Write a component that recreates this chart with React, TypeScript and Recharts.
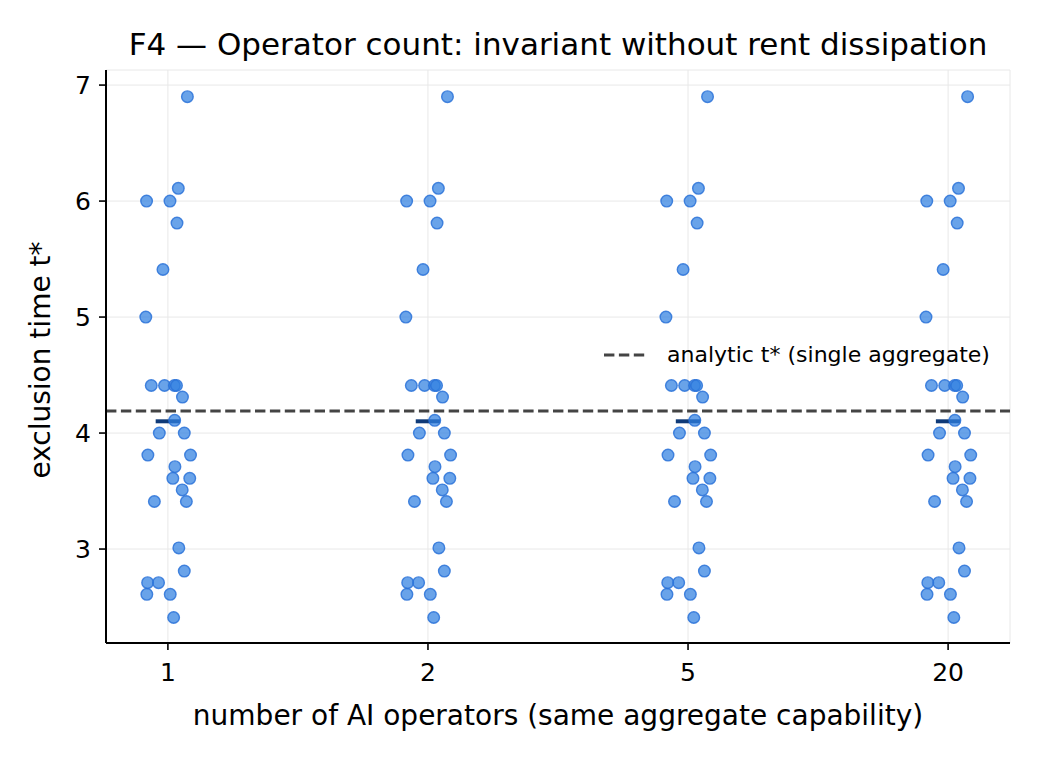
import React from 'react';
import {
  ScatterChart,
  Scatter,
  XAxis,
  YAxis,
  CartesianGrid,
  ReferenceLine,
} from 'recharts';

// Category labels (number of AI operators)
const categories = ['1', '2', '5', '20'];
// Exclusion time values (same set for each operator count)
const tValues = [
  6.9, 6.11, 6.0, 6.0, 5.81, 5.41, 5.0, 4.41, 4.41, 4.41, 4.41, 4.31, 4.11, 4.0, 4.0,
  3.81, 3.81, 3.71, 3.61, 3.61, 3.51, 3.41, 3.41, 3.01, 2.81, 2.71, 2.71, 2.61, 2.61, 2.41,
];
// Horizontal jitter (in category units) of each point
const jitter = [
  0.075, 0.04, -0.082, 0.008, 0.035, -0.019, -0.085, -0.064, -0.013, 0.025, 0.033, 0.056,
  0.026, -0.033, 0.063, -0.077, 0.087, 0.027, 0.019, 0.084, 0.055, -0.052, 0.071, 0.042,
  0.063, -0.078, -0.036, -0.081, 0.009, 0.022,
];
const analyticT = 4.19;
const yTicks = [3, 4, 5, 6, 7];
const xTicks = [0, 1, 2, 3];

const meanT = tValues.reduce((a, b) => a + b, 0) / tValues.length;

const points = categories.flatMap((_, ci) =>
  tValues.map((t, j) => ({ x: ci + jitter[j], y: t }))
);

const FONT = '"DejaVu Sans", Verdana, sans-serif';
const DASH = '10.4 4.5';

const Dot = (props: any) => {
  const { cx, cy } = props;
  if (cx == null || cy == null) return null;
  return (
    <circle
      cx={cx}
      cy={cy}
      r={5.8}
      fill="#2f7fe0"
      fillOpacity={0.72}
      stroke="#2a72d8"
      strokeOpacity={0.85}
      strokeWidth={1.4}
    />
  );
};

export default function App() {
  return (
    <div
      style={{
        position: 'absolute',
        left: 0,
        top: 0,
        width: 1040,
        height: 760,
        background: '#fff',
        fontFamily: FONT,
      }}
    >
      <ScatterChart
        width={1040}
        height={760}
        margin={{ top: 70, right: 30, bottom: 87, left: 36 }}
      >
        <CartesianGrid stroke="#e8e8e8" strokeWidth={1} />
        <XAxis
          type="number"
          dataKey="x"
          domain={[-0.238, 3.238]}
          ticks={xTicks}
          tickFormatter={(v: number) => categories[v]}
          allowDataOverflow
          height={30}
          tickSize={7}
          tickMargin={13}
          axisLine={{ stroke: '#000', strokeWidth: 2 }}
          tick={{ fill: '#000', fontSize: 25, fontFamily: FONT }}
          tickLine={{ stroke: '#000', strokeWidth: 1.6 }}
        />
        <YAxis
          type="number"
          dataKey="y"
          domain={[2.19, 7.13]}
          ticks={yTicks}
          allowDataOverflow
          width={70}
          tickSize={7}
          tickMargin={8}
          axisLine={{ stroke: '#000', strokeWidth: 2 }}
          tick={{ fill: '#000', fontSize: 25, fontFamily: FONT }}
          tickLine={{ stroke: '#000', strokeWidth: 1.6 }}
        />
        <ReferenceLine
          y={analyticT}
          stroke="#444"
          strokeWidth={2.8}
          strokeDasharray={DASH}
        />
        <Scatter data={points} shape={<Dot />} isAnimationActive={false} />
        {xTicks.map((c) => (
          <ReferenceLine
            key={c}
            segment={[
              { x: c - 0.047, y: meanT },
              { x: c + 0.047, y: meanT },
            ]}
            stroke="#0f3a78"
            strokeWidth={4}
          />
        ))}
      </ScatterChart>

      {/* Title */}
      <div
        style={{
          position: 'absolute',
          left: 106,
          width: 904,
          top: 24,
          textAlign: 'center',
          fontSize: 31,
          lineHeight: '40px',
          color: '#000',
          whiteSpace: 'nowrap',
        }}
      >
        F4 — Operator count: invariant without rent dissipation
      </div>

      {/* X label */}
      <div
        style={{
          position: 'absolute',
          left: 106,
          width: 904,
          top: 698,
          textAlign: 'center',
          fontSize: 28,
          lineHeight: '36px',
          color: '#000',
          whiteSpace: 'nowrap',
        }}
      >
        number of AI operators (same aggregate capability)
      </div>

      {/* Y label */}
      <div
        style={{
          position: 'absolute',
          left: 41,
          top: 360,
          transform: 'translate(-50%, -50%) rotate(-90deg)',
          fontSize: 28,
          lineHeight: '36px',
          color: '#000',
          whiteSpace: 'nowrap',
        }}
      >
        exclusion time t*
      </div>

      {/* Legend */}
      <div
        style={{
          position: 'absolute',
          left: 602,
          top: 340,
          display: 'flex',
          alignItems: 'center',
          fontSize: 22,
          lineHeight: '30px',
          color: '#000',
          whiteSpace: 'nowrap',
        }}
      >
        <svg width={48} height={10} style={{ marginRight: 17 }}>
          <line x1={2} y1={5} x2={46} y2={5} stroke="#444" strokeWidth={2.8} strokeDasharray={DASH} />
        </svg>
        <span>analytic t* (single aggregate)</span>
      </div>
    </div>
  );
}
